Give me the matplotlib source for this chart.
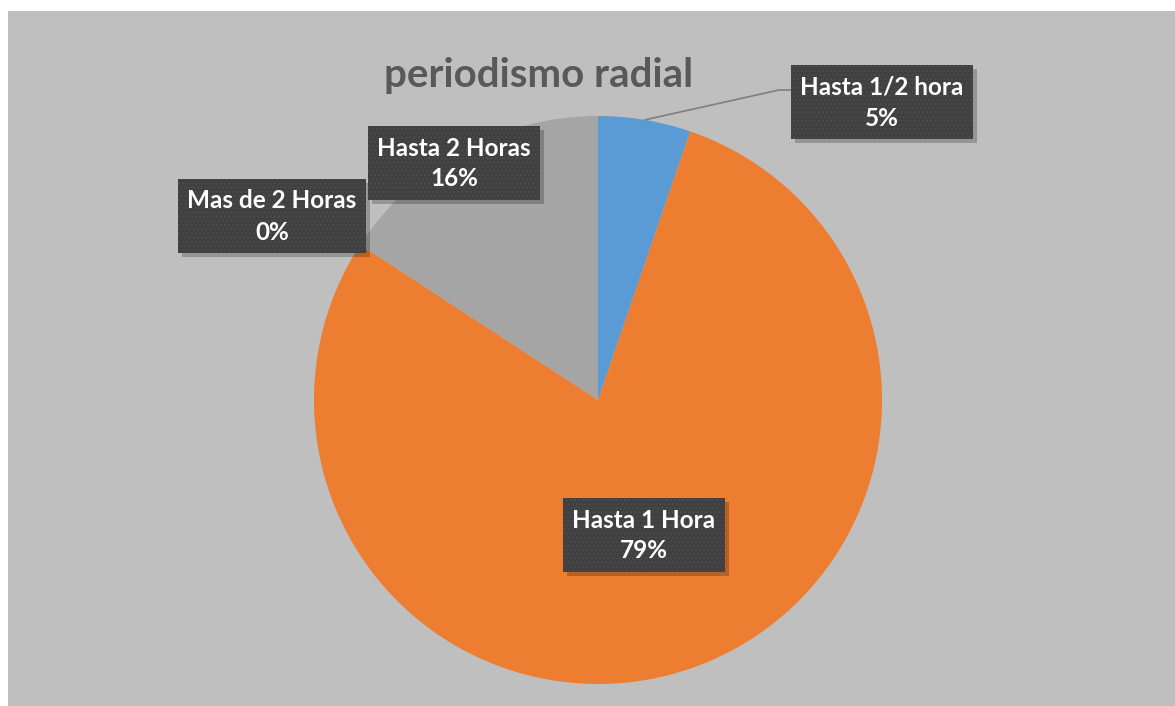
import matplotlib.pyplot as plt
import numpy as np

categories = ["Hasta 1/2 hora", "Hasta 1 Hora", "Hasta 2 Horas", "Mas de 2 Horas"]
values = [2, 30, 6, 0]
colors = ["#5B9BD5", "#ED7D31", "#A5A5A5", "#FFC000"]
title = "periodismo radial"

W, H = 1175, 706
fig = plt.figure(figsize=(W / 100, H / 100), dpi=100)
fig.patch.set_facecolor("white")

# gray chart area
bg = fig.add_axes([8 / W, 0, 1 - 8 / W, (H - 11) / H], zorder=0)
bg.set_facecolor("#BFBFBF")
bg.set_xticks([])
bg.set_yticks([])
for s in bg.spines.values():
    s.set_visible(False)

cx, cy, r = 598, 400, 284
ax = fig.add_axes([(cx - r) / W, (H - cy - r) / H, 2 * r / W, 2 * r / H], zorder=1)
ax.set_aspect("equal")
ax.axis("off")
wedges, _ = ax.pie(values, colors=colors, startangle=90, counterclock=False,
                   radius=1, wedgeprops=dict(linewidth=0))
ax.set_xlim(-1, 1)
ax.set_ylim(-1, 1)

fig.text(539 / W, 1 - 76 / H, title, ha="center", va="center", fontsize=29,
         fontweight="bold", color="#595959", family="Lato", zorder=3)

total = sum(values)
# label centres in figure pixels (from top-left)
label_pos = [(882, 102), (644, 535), (454, 163), (272, 216)]
kw = dict(ha="center", va="center", fontsize=17.5, fontweight="bold",
          family="Lato", color="white", zorder=6)
label_lines = []
for name, v, (px, py) in zip(categories, values, label_pos):
    t1 = fig.text(px / W, 1 - (py - 15) / H, name, **kw)
    t2 = fig.text(px / W, 1 - (py + 16) / H, "{}%".format(round(100 * v / total)), **kw)
    label_lines.append((t1, t2, px, py))

# dark boxes with drop shadow behind each label
fig.canvas.draw()
for t1, t2, px, py in label_lines:
    tw = max(t1.get_window_extent().width, t2.get_window_extent().width)
    bw, bh = tw + 18, 74
    x0, y0 = px - bw / 2, H - py - bh / 2
    fig.patches.append(plt.Rectangle((x0 + 4, y0 - 4), bw, bh, transform=None,
                                     facecolor="black", alpha=0.22,
                                     edgecolor="none", zorder=4))
    fig.patches.append(plt.Rectangle((x0, y0), bw, bh, transform=None,
                                     facecolor="#404040", edgecolor="#4c4c4c",
                                     linewidth=0, hatch="....", zorder=5))

# leader line for the small slice
w = wedges[0]
ang = np.deg2rad((w.theta1 + w.theta2) / 2)
ax.annotate("", xy=(np.cos(ang), np.sin(ang)), xycoords="data",
            xytext=(779, H - 90), textcoords="figure pixels",
            arrowprops=dict(arrowstyle="-", color="#7F7F7F", lw=1.2, shrinkA=0, shrinkB=0))
ax.annotate("", xy=(779, H - 90), xycoords="figure pixels",
            xytext=(792, H - 90), textcoords="figure pixels",
            arrowprops=dict(arrowstyle="-", color="#7F7F7F", lw=1.2, shrinkA=0, shrinkB=0))

plt.savefig("out.png", dpi=100)
